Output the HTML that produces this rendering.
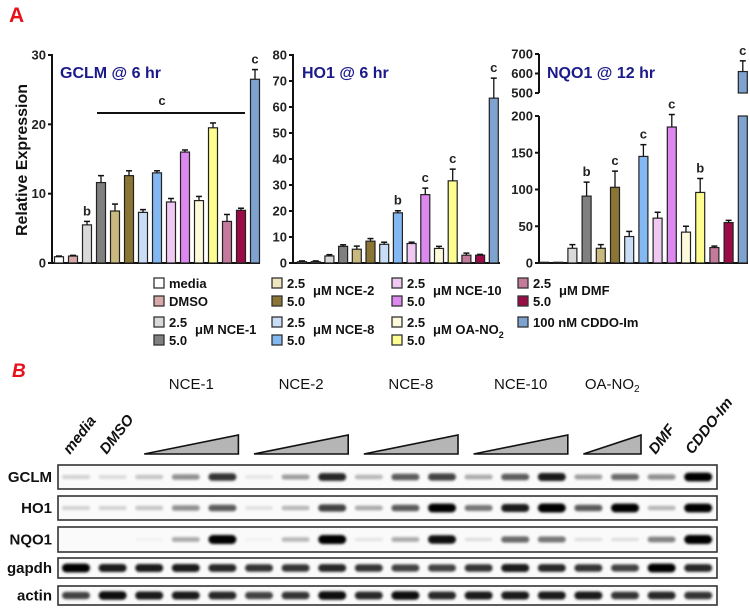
<!DOCTYPE html>
<html><head><meta charset="utf-8"><style>
body{margin:0;background:#fff;}
svg{display:block;font-family:"Liberation Sans",sans-serif;}
.t{font-weight:bold;font-size:13px;fill:#222;}
.lg{font-weight:bold;font-size:13px;fill:#111;}
.ttl{font-weight:bold;font-size:16px;fill:#1a1a8a;}
.bl{font-size:15px;fill:#111;}
</style></head><body>
<svg id="fig" width="750" height="609" viewBox="0 0 750 609">
<defs><filter id="blur" x="-20%" y="-60%" width="140%" height="220%"><feGaussianBlur stdDeviation="1.3"/></filter></defs>
<text x="9" y="22" font-size="21" font-weight="bold" fill="#e8101a">A</text>
<text x="12" y="377" font-size="19" font-weight="bold" font-style="italic" fill="#e8101a">B</text>
<text transform="translate(27,160) rotate(-90)" text-anchor="middle" font-size="16" font-weight="bold" fill="#111">Relative  Expression</text>
<g id="charts"></g>
<g id="legend"></g>
<g id="blot"></g>
</svg>
<script>
const colors=['#ffffff','#d8a9a9','#d9d9d9','#808080','#c9b97e','#8a7535','#c9def6','#84b8f2','#efc9f2','#dc88ee','#fdfbdc','#fdfd90','#c47a9a','#9b0b45','#7ea3d0'];
const legColors=['#ffffff','#d8a9a9','#d9d9d9','#808080','#efe6c0','#8a7535','#c9def6','#84b8f2','#efc9f2','#dc88ee','#fdfbdc','#fdfd90','#c47a9a','#9b0b45','#7ea3d0'];
const gclmVals=[0.9,1.0,5.5,11.6,7.5,12.6,7.3,13.0,8.8,16.0,9.0,19.5,6.0,7.6,26.5];
const gclmErr=[0.1,0.1,0.5,1.0,1.0,0.7,0.4,0.3,0.5,0.3,0.6,0.7,1.0,0.3,1.4];
const gclmSig=['','','b','','','','','','','','','','','','c'];
const gclmTicks=[0,10,20,30];
const ho1Vals=[0.5,0.5,2.7,6.4,5.3,8.4,7.2,19.3,7.5,26.3,5.6,31.6,3.0,3.0,63.4];
const ho1Err=[0.3,0.3,0.5,0.6,1.2,1.0,0.8,0.8,0.5,2.5,0.8,4.5,0.8,0.3,7.7];
const ho1Sig=['','','','','','','','b','','c','','c','','','c'];
const ho1Ticks=[0,10,20,30,40,50,60,70,80];
const nqo1Vals=[1,1,20,91,20,103,36,145,61,185,42,96,21,55,610];
const nqo1Err=[0,0,5,19,5,22,7,16,8,17,8,19,2,3,55];
const nqo1Sig=['','','','b','','c','','c','','c','','b','','','c'];
const nqo1TicksLow=[0,50,100,150,200];
const nqo1TicksHigh=[500,600,700];

const NS='http://www.w3.org/2000/svg';
function mk(tag,attrs,parent,txt){const e=document.createElementNS(NS,tag);for(const k in attrs)e.setAttribute(k,attrs[k]);if(txt!==undefined)e.textContent=txt;parent.appendChild(e);return e;}
const charts=document.getElementById('charts');

function drawChart(cfg){
  const g=mk('g',{},charts);
  
  
  const y=cfg.y, x=i=>cfg.x0+i*cfg.step, bw=9;
  cfg.axisSegs.forEach(s=>{const l=mk('line',{x1:cfg.ax,x2:cfg.ax,y1:s[0],y2:s[1],stroke:'#111','stroke-width':2},g);});
  const xa=mk('line',{x1:cfg.ax,x2:cfg.axEnd,y1:263,y2:263,stroke:'#111','stroke-width':2},g);
  
  cfg.ticks.forEach(t=>{
    mk('line',{x1:cfg.ax-4,x2:cfg.ax,y1:y(t),y2:y(t),stroke:'#111','stroke-width':2},g);
    const tl=mk('text',{x:cfg.ax-6,y:y(t)+4.5,'text-anchor':'end',class:'t'},g,String(t));
    
  });
  cfg.vals.forEach((v,i)=>{
    const cx=x(i);
    const segs=cfg.segs?cfg.segs(v):[[y(v),263]];
    segs.forEach(s=>{
      const r=mk('rect',{x:cx-bw/2,y:s[0],width:bw,height:Math.max(0.5,s[1]-s[0]),fill:colors[i],stroke:'#222','stroke-width':1.2},g);
      
    });
    const e=cfg.err[i];
    if(e>0){
      const ty=y(v+e);
      mk('line',{x1:cx,x2:cx,y1:ty,y2:y(v),stroke:'#111','stroke-width':1.3},g);
      mk('line',{x1:cx-3,x2:cx+3,y1:ty,y2:ty,stroke:'#111','stroke-width':1.5},g);
    }
    if(cfg.sig[i]){
      const st=mk('text',{x:cx,y:y(v+e)-6,'text-anchor':'middle',class:'t','font-size':12},g,cfg.sig[i]);
      
    }
  });
  const tt=mk('text',{x:cfg.tx,y:78,class:'ttl'},g,cfg.title);
  
  return g;
}
const gY=v=>263-v*(208/30);
const g1=drawChart({name:'gclm',ax:52,axEnd:260,x0:59,step:14,y:gY,ticks:gclmTicks,vals:gclmVals,err:gclmErr,sig:gclmSig,title:'GCLM @ 6 hr',tx:60,axisSegs:[[54,264]]});
const sl=mk('line',{x1:97,x2:245,y1:113,y2:113,stroke:'#111','stroke-width':2},g1);

mk('text',{x:162,y:105,'text-anchor':'middle',class:'t','font-size':12},g1,'c');
const hY=v=>263-v*(208/80);
drawChart({name:'ho1',ax:293,axEnd:500,x0:302,step:13.7,y:hY,ticks:ho1Ticks,vals:ho1Vals,err:ho1Err,sig:ho1Sig,title:'HO1 @ 6 hr',tx:302,axisSegs:[[54,264]]});
const nY=v=>v<=300?263-v*(147/200):93-(v-500)*(39/200);
drawChart({name:'nqo1',ax:539,axEnd:748,x0:544,step:14.2,y:nY,ticks:nqo1TicksLow.concat(nqo1TicksHigh),vals:nqo1Vals,err:nqo1Err,sig:nqo1Sig,title:'NQO1 @ 12 hr',tx:547,axisSegs:[[54,93],[116,264]],
  segs:v=>v>200?[[116,263],[nY(v),93]]:[[nY(v),263]]});

const leg=document.getElementById('legend');
const legItems=[
 [159,283,0,'media'],[159,301,1,'DMSO'],[159,322,2,'2.5'],[159,340,3,'5.0'],
 [277,283,4,'2.5'],[277,301,5,'5.0'],[277,322,6,'2.5'],[277,340,7,'5.0'],
 [397,283,8,'2.5'],[397,301,9,'5.0'],[397,322,10,'2.5'],[397,340,11,'5.0'],
 [523,283,12,'2.5'],[523,301,13,'5.0'],[523,322,14,'100 nM CDDO-Im']];
legItems.forEach(it=>{
  const g=mk('g',{},leg);
  
  mk('rect',{x:it[0]-5,y:it[1]-5,width:10,height:10,fill:legColors[it[2]],stroke:'#333','stroke-width':1.3},g);
  mk('text',{x:it[0]+10,y:it[1]+5,class:'lg'},g,it[3]);
});
const units=[[195,334,'NCE-1'],[313,295,'NCE-2'],[313,334,'NCE-8'],[433,295,'NCE-10'],[433,334,'OA-NO'],[559,295,'DMF']];
units.forEach(u=>{
  const t=mk('text',{x:u[0],y:u[1],class:'lg'},leg);
  
  mk('tspan',{},t,'\u03BCM '+u[2]);
  if(u[2]==='OA-NO'){mk('tspan',{dy:4,'font-size':9},t,'2');}
});

const blot=document.getElementById('blot');
const rowNames=['GCLM','HO1','NQO1','gapdh','actin'];
const rowTops=[465,496,527,558,586];
const rowH=[24,24,25,20,19];
const gclmBand=[.15,.12,.2,.4,.75,.08,.35,.8,.25,.6,.7,.3,.6,.85,.35,.55,.4,.95];
const ho1Band=[.15,.15,.2,.4,.6,.1,.25,.7,.3,.6,.95,.5,.85,1,.6,.95,.25,.95];
const nqo1Band=[0,0,.03,.3,1,.03,.25,1,.08,.3,.9,.1,.55,.5,.1,.1,.45,1];
const gapdhBand=[.95,.85,.85,.85,.8,.75,.75,.8,.75,.7,.7,.75,.85,.8,.75,.7,.95,.8];
const actinBand=[.7,.9,.85,.85,.8,.7,.75,.9,.8,.9,.8,.85,.85,.85,.85,.75,.8,.75];
const bands=[gclmBand,ho1Band,nqo1Band,gapdhBand,actinBand];
const laneX=i=>76+i*36.6;
rowNames.forEach((n,r)=>{
  const g=mk('g',{},blot);
  
  mk('rect',{x:58,y:rowTops[r],width:659,height:rowH[r],fill:'#fafafa',stroke:'#333','stroke-width':1.6},g);
  const lab=mk('text',{x:52,y:rowTops[r]+rowH[r]/2+5,'text-anchor':'end','font-size':15,'font-weight':'bold',fill:'#111'},g,n);
  
  bands[r].forEach((v,i)=>{
    if(v<=0)return;
    const h=3+v*6;
    const b=mk('rect',{x:laneX(i)-14,y:rowTops[r]+rowH[r]/2-h/2,width:28,height:h,rx:h/2,fill:'#000',opacity:Math.min(1,v*1.05),filter:'url(#blur)'},g);
    
  });
});
const laneLabels=[[0,'media'],[1,'DMSO'],[16,'DMF'],[17,'CDDO-Im']];
laneLabels.forEach(l=>{
  const t=mk('text',{transform:'translate('+(laneX(l[0])-6)+',455) rotate(-52)','font-size':15,'font-style':'italic','font-weight':'bold',fill:'#111'},blot,l[1]);
  
});
const groups=[[2,3,'NCE-1'],[5,3,'NCE-2'],[8,3,'NCE-8'],[11,3,'NCE-10'],[14,2,'OA-NO']];
groups.forEach(gr=>{
  const x1=laneX(gr[0])-5, x2=laneX(gr[0]+gr[1]-1)+16;
  const p=mk('polygon',{points:x1+',454 '+x2+',454 '+x2+',435',fill:'#b5b5b5',stroke:'#111','stroke-width':1.6},blot);
  
  const t=mk('text',{x:(x1+x2)/2,y:389,'text-anchor':'middle',class:'bl'},blot);
  
  mk('tspan',{},t,gr[2]);
  if(gr[2]==='OA-NO')mk('tspan',{dy:3,'font-size':10},t,'2');
});
</script>
</body></html>
